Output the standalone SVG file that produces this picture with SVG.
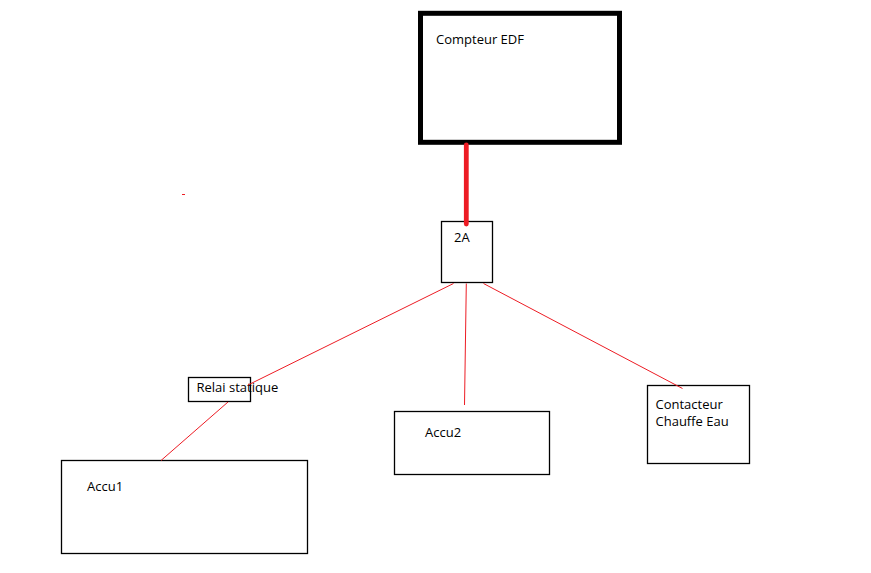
<svg xmlns="http://www.w3.org/2000/svg" width="871" height="573" viewBox="0 0 871 573">
<style>
.box{fill:#fff;stroke:#000;stroke-width:1.3}
.t{font-family:"Open Sans","Noto Sans","Liberation Sans",sans-serif;font-size:13px;fill:#000}
.w{stroke:#ed1c24;stroke-width:1;fill:none}
</style>
<rect width="871" height="573" fill="#fff"/>
<g id="compteur">
<rect x="420.5" y="13.3" width="199" height="129" fill="#fff" stroke="#000" stroke-width="5"/>
<text class="t" x="436" y="44">Compteur EDF</text>
</g>
<g id="n2a">
<rect class="box" x="441.5" y="221.5" width="51" height="61"/>
<text class="t" x="454" y="242">2A</text>
</g>
<g id="relai">
<rect class="box" x="188.5" y="377.5" width="62" height="24" fill="none"/>
<text class="t" x="196.5" y="392">Relai statique</text>
</g>
<g id="accu1">
<rect class="box" x="61.5" y="460.5" width="246" height="93"/>
<text class="t" x="87" y="491">Accu1</text>
</g>
<g id="accu2">
<rect class="box" x="394.5" y="411.5" width="155" height="63"/>
<text class="t" x="425" y="437">Accu2</text>
</g>
<g id="contacteur">
<rect class="box" x="647.5" y="385.5" width="102" height="78"/>
<text class="t" x="655.5" y="408.5">Contacteur</text>
<text class="t" x="655.5" y="426">Chauffe Eau</text>
</g>
<g id="connectors">
<line x1="466.3" y1="145" x2="466.3" y2="224" stroke="#ed1c24" stroke-width="4.8" stroke-linecap="round"/>
<line class="w" x1="453.5" y1="283.5" x2="248" y2="385"/>
<line class="w" x1="466.3" y1="283.5" x2="464.5" y2="405"/>
<line class="w" x1="483.5" y1="283.5" x2="682.5" y2="388.5"/>
<line class="w" x1="228" y1="402" x2="161" y2="460.5"/>
<line x1="182" y1="194.5" x2="185" y2="194.5" stroke="#ed1c24" stroke-width="1"/>
</g>
</svg>
